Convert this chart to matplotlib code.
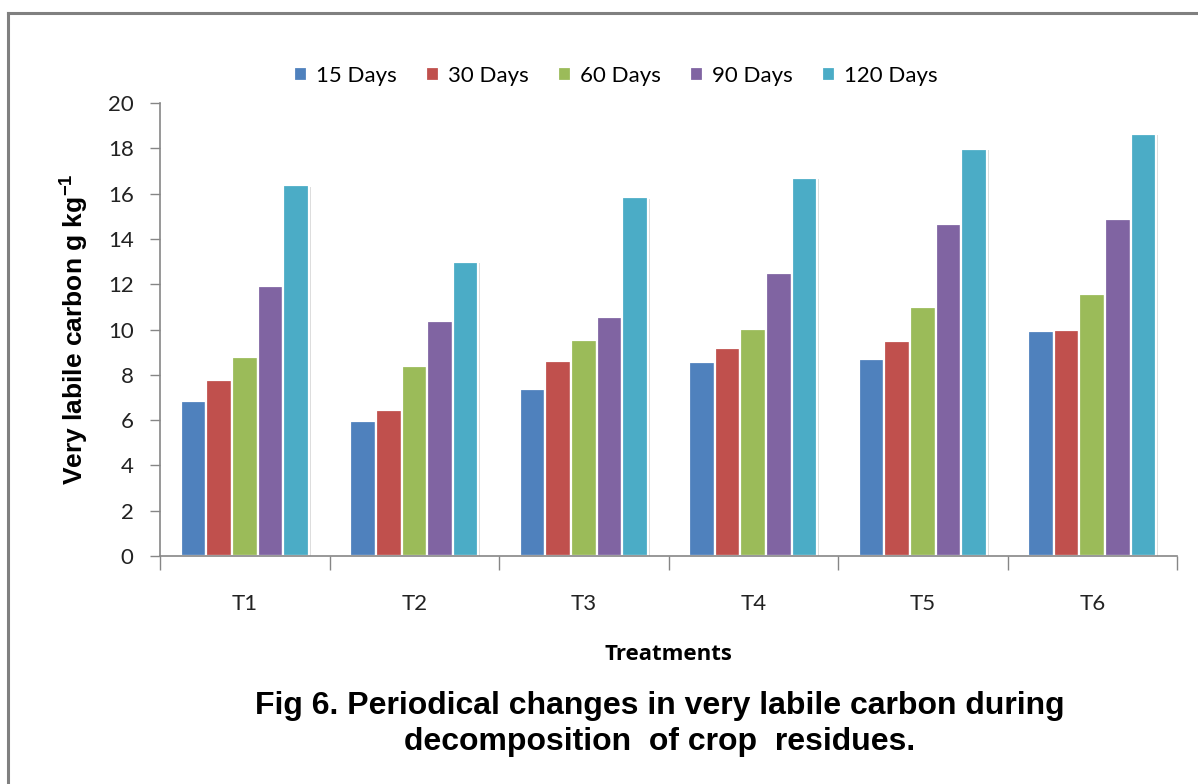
import numpy as np
import matplotlib
matplotlib.use('Agg')
import matplotlib.pyplot as plt
from matplotlib.lines import Line2D

### Data
treatments = ['T1', 'T2', 'T3', 'T4', 'T5', 'T6']
series_names = ['15 Days', '30 Days', '60 Days', '90 Days', '120 Days']
days15 = [6.83, 5.96, 7.36, 8.55, 8.72, 9.92]
days30 = [7.76, 6.43, 8.62, 9.17, 9.49, 9.98]
days60 = [8.79, 8.40, 9.52, 10.04, 11.00, 11.59]
days90 = [11.93, 10.38, 10.55, 12.48, 14.65, 14.89]
days120 = [16.36, 12.99, 15.83, 16.69, 17.99, 18.63]
colors = ['#4f81bd', '#c0504d', '#9bbb59', '#8064a2', '#4bacc6']

series = [days15, days30, days60, days90, days120]

plt.rcParams['mathtext.fontset'] = 'custom'
plt.rcParams['mathtext.bf'] = 'Liberation Sans:bold'
plt.rcParams['mathtext.rm'] = 'Liberation Sans:bold'

fig = plt.figure(figsize=(11.98, 7.84), dpi=100)
ax = fig.add_axes([0.1336, 0.2908, 0.8489, 0.5778])

# outer chart frame (top and left edges visible)
fig.add_artist(Line2D([8/1198, 1], [1-13/784, 1-13/784], color='#808080', lw=2.2, transform=fig.transFigure))
fig.add_artist(Line2D([8/1198, 8/1198], [0, 1-13/784], color='#808080', lw=2.2, transform=fig.transFigure))

x = np.arange(len(treatments))
width = 0.151
for i, (vals, name, col) in enumerate(zip(series, series_names, colors)):
    offs = (i - 2) * width
    # soft shadow behind each bar
    ax.bar(x + offs + 0.012, vals, width, bottom=-0.06, color='#d9d9d9', edgecolor='none', zorder=1)
    ax.bar(x + offs, vals, width, color=col, edgecolor='white', linewidth=1.6, label=name, zorder=2)

ax.set_xlim(-0.5, len(treatments) - 0.5)
ax.set_ylim(0, 20)

tick_font = 'Lato'
ax.set_yticks(np.arange(0, 21, 2))
ax.set_yticklabels([str(v) for v in range(0, 21, 2)], fontsize=16, family=tick_font, color='#222222')
ax.set_xticks(x)
ax.set_xticklabels(treatments, fontsize=16, family=tick_font, color='#222222')
ax.set_xticks(np.arange(-0.5, len(treatments)), minor=True)
ax.tick_params(axis='x', which='major', length=0, pad=27)
ax.tick_params(axis='x', which='minor', length=10, color='#868686', width=1)
ax.tick_params(axis='y', length=7, color='#868686', width=1, pad=12)

for s in ['top', 'right']:
    ax.spines[s].set_visible(False)
ax.spines['left'].set_color('#868686')
ax.spines['bottom'].set_color('#868686')
ax.spines['left'].set_linewidth(1.2)
ax.spines['bottom'].set_linewidth(1.2)

ax.set_ylabel('Very labile carbon g kg$^{\\mathbf{-1}}$', fontsize=19, fontweight='bold',
              family='Liberation Sans', labelpad=13)
ax.set_xlabel('Treatments', fontsize=16, fontweight='bold', family='Open Sans', labelpad=22)

leg = ax.legend(loc='center', bbox_to_anchor=(0.448, 1.0 + 27/453), ncol=5, frameon=False,
                prop={'family': tick_font, 'size': 16}, handlelength=0.6, handleheight=0.6,
                handletextpad=0.4, columnspacing=1.3)

fig.text(0.551, 1 - 724/784, 'Fig 6. Periodical changes in very labile carbon during\ndecomposition  of crop  residues.',
         ha='center', va='center', fontsize=23, fontweight='bold', family='Liberation Sans',
         linespacing=1.25)

fig.savefig('out.png', dpi=100, facecolor='white')
